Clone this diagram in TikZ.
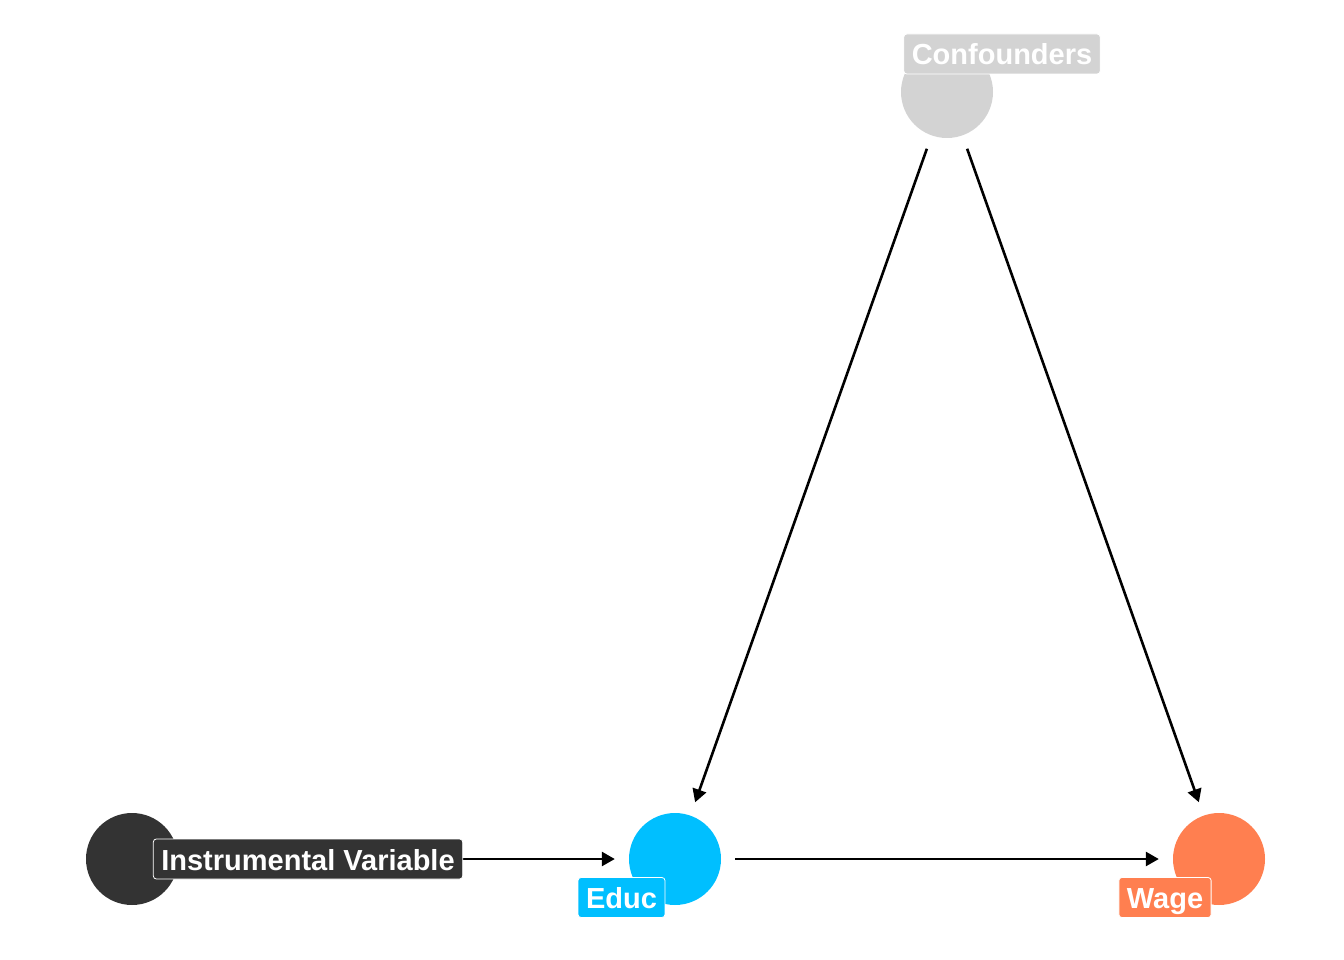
\documentclass[tikz,border=0pt]{standalone}
\usepackage{fontspec}
\setmainfont{Liberation Sans}
\usetikzlibrary{arrows.meta}
\definecolor{ivgray}{HTML}{333333}
\definecolor{educblue}{HTML}{00BFFF}
\definecolor{wagecoral}{HTML}{FF7F50}
\definecolor{confgray}{HTML}{D3D3D3}
\begin{document}
\begin{tikzpicture}[x=1pt,y=-1pt,
    var/.style={circle,fill=#1,minimum size=92pt,inner sep=0pt},
    tag/.style={rectangle,rounded corners=3pt,draw=white,line width=0.8pt,fill=#1,text=white,
      font=\fontsize{29}{31}\selectfont\bfseries,inner xsep=8pt,inner ysep=0pt,
      text height=24pt,text depth=2pt,minimum height=40pt},
    edge/.style={line width=2.6pt,-{Triangle[length=13pt,width=14pt]},shorten <=14pt,shorten >=14pt}]
    \useasboundingbox (0,0) rectangle (1344,960);
    % variables
    \node[var=ivgray] (iv) at (132,859) {};
    \node[var=educblue] (educ) at (675,859) {};
    \node[var=wagecoral] (wage) at (1219,859) {};
    \node[var=confgray] (conf) at (947,92) {};
    % edges
    \draw[edge] (iv) -- (educ);
    \draw[edge] (educ) -- (wage);
    \draw[edge] (conf) -- (educ);
    \draw[edge] (conf) -- (wage);
    % labels
    \node[tag=ivgray] (ivtag) at (308,859) {Instrumental Variable};
    \node[tag=educblue] (eductag) at (621.5,897.5) {Educ};
    \node[tag=wagecoral] (wagetag) at (1165,897.5) {Wage};
    \node[tag=confgray] (conftag) at (1002,54) {Confounders};
\end{tikzpicture}
\end{document}
